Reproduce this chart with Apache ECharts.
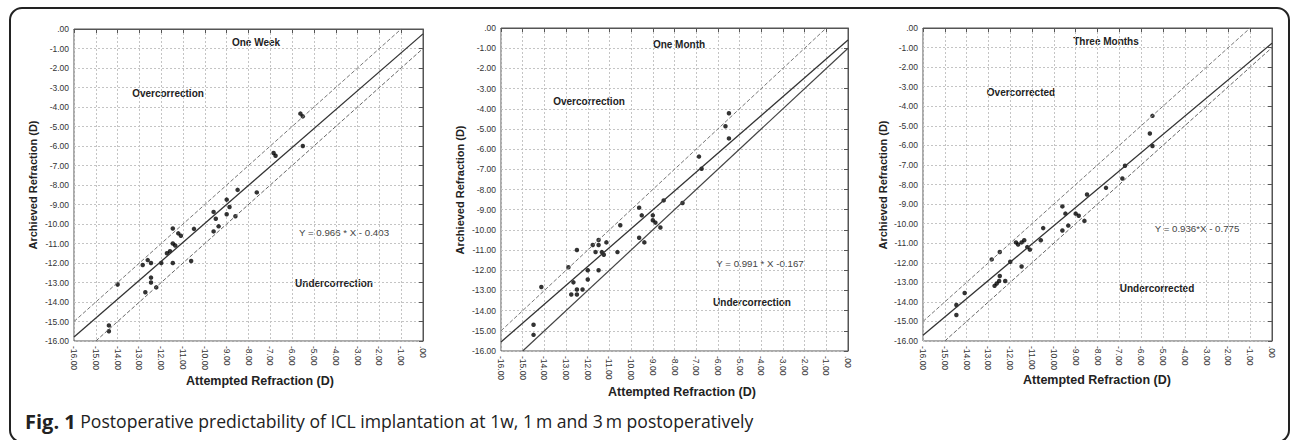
<!DOCTYPE html>
<html>
<head>
<meta charset="utf-8">
<script src="https://cdn.jsdelivr.net/npm/echarts@6/dist/echarts.min.js"></script>
<style>
html,body{margin:0;padding:0;background:#fff;}
#c{width:1292px;height:440px;}
</style>
</head>
<body>
<div id="c"></div>
<script>
// ---------- data ----------
var tickValues = [-16,-15,-14,-13,-12,-11,-10,-9,-8,-7,-6,-5,-4,-3,-2,-1,0];

var weekX = [-14.0,-14.4,-14.4,-12.85,-12.62,-12.47,-12.47,-12.47,-12.73,-12.23,-12.0,-11.74,-11.6,-11.47,-11.47,-11.36,-11.47,-11.22,-11.1,-10.63,-10.5,-9.6,-9.6,-9.5,-9.37,-9.0,-8.87,-9.0,-8.6,-8.5,-7.62,-6.85,-6.76,-5.62,-5.51,-5.51];
var weekY = [-13.1,-15.2,-15.5,-12.1,-11.85,-12.0,-12.75,-13.0,-13.5,-13.25,-12.0,-11.5,-11.4,-10.23,-11.0,-11.1,-12.0,-10.48,-10.6,-11.9,-10.25,-9.38,-10.38,-9.73,-10.12,-8.75,-9.13,-9.5,-9.6,-8.25,-8.38,-6.36,-6.5,-4.34,-4.48,-6.0];

var monthX = [-14.5,-14.5,-14.14,-12.89,-12.76,-12.66,-12.5,-12.5,-12.5,-12.24,-12.0,-12.0,-11.77,-11.64,-11.5,-11.5,-11.5,-11.35,-11.26,-11.14,-10.63,-10.5,-9.63,-9.63,-9.51,-9.39,-9.0,-9.0,-8.88,-8.65,-8.5,-7.63,-6.87,-6.75,-5.65,-5.49,-5.49];
var monthY = [-14.7,-15.2,-12.83,-11.85,-13.2,-12.6,-11.0,-12.95,-13.2,-12.95,-12.0,-12.46,-10.75,-11.1,-10.5,-10.75,-12.0,-11.1,-11.23,-10.62,-11.1,-9.77,-8.9,-10.39,-9.28,-10.62,-9.28,-9.52,-9.64,-9.88,-8.54,-8.67,-6.37,-6.97,-4.87,-4.22,-5.47];

var threeX = [-14.47,-14.47,-14.09,-12.85,-12.72,-12.62,-12.51,-12.48,-12.48,-12.23,-12.0,-11.74,-11.64,-11.48,-11.48,-11.36,-11.22,-11.1,-10.6,-10.49,-9.61,-9.61,-9.47,-9.34,-9.0,-8.86,-8.6,-8.48,-7.61,-6.86,-6.74,-5.6,-5.48,-5.48];
var threeY = [-14.16,-14.67,-13.55,-11.83,-13.18,-13.06,-12.93,-12.68,-11.45,-12.93,-11.95,-10.96,-11.07,-12.19,-10.96,-10.85,-11.2,-11.33,-10.85,-10.23,-9.12,-10.35,-9.49,-10.1,-9.49,-9.6,-9.86,-8.51,-8.17,-7.69,-7.04,-5.39,-4.49,-6.03];

// fit lines (endpoints) and +/-1 D limits
var weekFit  = [[-16,-15.8],[0,-0.25]];
var monthFit = [[-16,-15.55],[0,-0.6]];
var threeFit = [[-16,-15.7],[0,-0.78]];
var upperLimit = [[-16,-15],[-1,0]];
var lowerLimit = [[-15,-16],[0,-1]];

var panelTitles = ['One Week','One Month','Three Months'];
var overLabels  = ['Overcorrection','Overcorrection','Overcorrected'];
var underLabels = ['Undercorrection','Undercorrection','Undercorrected'];
var equations   = ['Y = 0.966 * X - 0.403','Y = 0.991 * X -0.167','Y = 0.936*X - 0.775'];
var xTitle = 'Attempted Refraction (D)';
var yTitle = 'Archieved Refraction (D)';
var captionBold = 'Fig. 1';
var captionText = ' Postoperative predictability of ICL implantation at 1w, 1\u2009m and 3\u2009m postoperatively';

// ---------- layout ----------
var grids = [
  {left:74, top:29, width:349, height:312},
  {left:501, top:28, width:347, height:323},
  {left:923, top:28, width:349, height:313}
];

function fmt(v){ return Math.abs(v) < 1e-9 ? '.00' : v.toFixed(2); }
function pairs(xs, ys){ return xs.map(function(x,i){ return [x, ys[i]]; }); }

var FONT = '"Liberation Sans", Arial, sans-serif';
var CAPFONT = '"Open Sans", "Noto Sans", sans-serif';

var xAxes = [], yAxes = [], series = [];
grids.forEach(function(g, i){
  xAxes.push({
    type:'value', gridIndex:i, min:-16, max:0, interval:1,
    axisLine:{show:true, lineStyle:{color:'#555', width:1}},
    axisTick:{show:true, length:4, lineStyle:{color:'#555'}},
    axisLabel:{rotate:-90, fontSize:8.5, color:'#333', margin:5, fontFamily:FONT, formatter:fmt, showMinLabel:true, showMaxLabel:true},
    splitLine:{show:true, lineStyle:{color:'#c4c4c4', type:[2,2], width:1}}
  });
  yAxes.push({
    type:'value', gridIndex:i, min:-16, max:0, interval:1,
    axisLine:{show:true, lineStyle:{color:'#555', width:1}},
    axisTick:{show:true, length:4, lineStyle:{color:'#555'}},
    axisLabel:{fontSize:8.5, color:'#333', margin:5, fontFamily:FONT, formatter:fmt, showMinLabel:true, showMaxLabel:true},
    splitLine:{show:true, lineStyle:{color:'#c4c4c4', type:[2,2], width:1}}
  });
});

var scatterSets = [pairs(weekX,weekY), pairs(monthX,monthY), pairs(threeX,threeY)];
var fits = [weekFit, monthFit, threeFit];
var lowerStyles = [
  {color:'#666', width:1, type:[4,2]},
  {color:'#444', width:1.2, type:'solid'},
  {color:'#666', width:1, type:[4,2]}
];

for (var i = 0; i < 3; i++) {
  series.push({type:'line', xAxisIndex:i, yAxisIndex:i, data:upperLimit, symbol:'none', silent:true,
    lineStyle:{color:'#777', width:1, type:[4,2]}});
  series.push({type:'line', xAxisIndex:i, yAxisIndex:i, data:lowerLimit, symbol:'none', silent:true,
    lineStyle:lowerStyles[i]});
  series.push({type:'line', xAxisIndex:i, yAxisIndex:i, data:fits[i], symbol:'none', silent:true,
    lineStyle:{color:'#333', width:1.3}});
  series.push({type:'scatter', xAxisIndex:i, yAxisIndex:i, data:scatterSets[i], symbolSize:4.5,
    itemStyle:{color:'#000'}});
}

// annotation positions (pixels)
var annot = [
  {title:[256,42], over:[168,93], eq:[344,232], under:[334,283], xt:[260,381], yt:[33,185]},
  {title:[679,44], over:[589,101], eq:[760,263], under:[752,302], xt:[682,392], yt:[460,190]},
  {title:[1106,41], over:[1021,92], eq:[1197,228], under:[1157,288], xt:[1097,380], yt:[883,185]}
];

var graphics = [];
graphics.push({type:'rect', shape:{x:10, y:8, width:1279, height:434, r:12},
  style:{fill:'none', stroke:'#222', lineWidth:2}, z:-1, silent:true});

function txt(s, p, bold, size, color, rot){
  var el = {type:'text', x:p[0], y:p[1], silent:true,
    style:{text:s, x:0, y:0, align:'center', verticalAlign:'middle',
      font:(bold?'bold ':'') + size + 'px ' + FONT, fill:color}};
  if (rot) el.rotation = rot;
  return el;
}
annot.forEach(function(a, i){
  graphics.push(txt(panelTitles[i], a.title, true, 10, '#222'));
  graphics.push(txt(overLabels[i], a.over, true, 10, '#222'));
  graphics.push(txt(equations[i], a.eq, false, 9.7, '#444'));
  graphics.push(txt(underLabels[i], a.under, true, 10, '#222'));
  graphics.push(txt(xTitle, a.xt, true, 12.5, '#222'));
  graphics.push(txt(yTitle, a.yt, true, 11, '#222', Math.PI/2));
});

graphics.push({type:'text', x:25, y:421, silent:true,
  style:{text:'{b|' + captionBold + '}{n|' + captionText + '}', x:0, y:0, verticalAlign:'middle', align:'left',
    rich:{
      b:{fontWeight:'bold', fontSize:20, fontFamily:CAPFONT, fill:'#222'},
      n:{fontSize:17.6, fontFamily:CAPFONT, fill:'#222'}
    }}});

var chart = echarts.init(document.getElementById('c'), null, {renderer:'svg'});
chart.setOption({
  backgroundColor:'#fff',
  animation:false,
  grid: grids.map(function(g){ return {left:g.left, top:g.top, width:g.width, height:g.height,
    show:true, borderColor:'#555', borderWidth:1, backgroundColor:'#fff'}; }),
  xAxis:xAxes,
  yAxis:yAxes,
  series:series,
  graphic:graphics
});
</script>
</body>
</html>
